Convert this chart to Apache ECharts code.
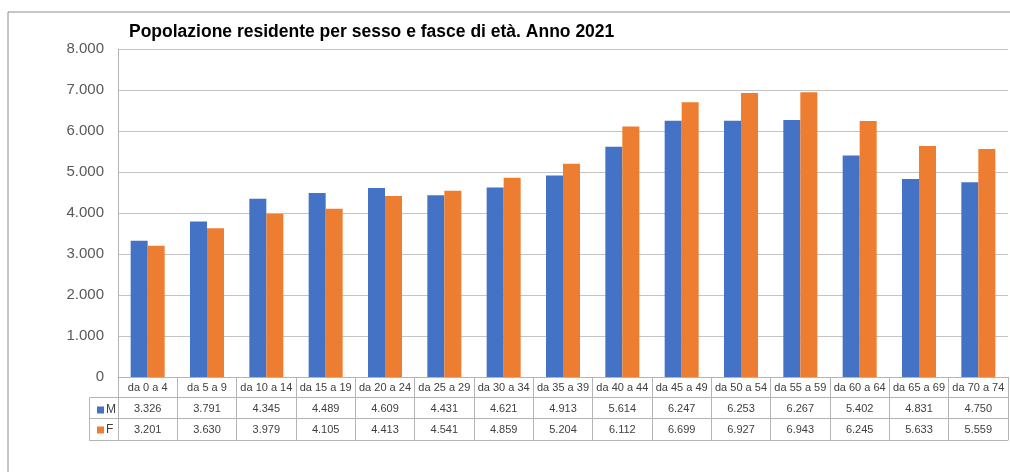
<!DOCTYPE html>
<html>
<head>
<meta charset="utf-8">
<title>Popolazione residente per sesso e fasce di età</title>
<script src="https://cdn.jsdelivr.net/npm/echarts/dist/echarts.min.js"></script>
<style>
  html, body { margin: 0; padding: 0; background: #fff; }
  #chart { width: 1010px; height: 472px; }
</style>
</head>
<body>
<div id="chart"></div>
<script>
// dati: popolazione residente 2021
var categories = ["da 0 a 4", "da 5 a 9", "da 10 a 14", "da 15 a 19", "da 20 a 24", "da 25 a 29", "da 30 a 34",
  "da 35 a 39", "da 40 a 44", "da 45 a 49", "da 50 a 54", "da 55 a 59", "da 60 a 64", "da 65 a 69", "da 70 a 74"];
var maschi = [3326, 3791, 4345, 4489, 4609, 4431, 4621, 4913, 5614, 6247, 6253, 6267, 5402, 4831, 4750];
var femmine = [3201, 3630, 3979, 4105, 4413, 4541, 4859, 5204, 6112, 6699, 6927, 6943, 6245, 5633, 5559];
var yTicks = [0, 1000, 2000, 3000, 4000, 5000, 6000, 7000, 8000];

function fmt(v) {
  return String(v).replace(/\B(?=(\d{3})+(?!\d))/g, ".");
}

var font = "Liberation Sans";
var gridColor = "#c4c4c4";
var tableColor = "#b4b4b4";

var dom = document.getElementById("chart");
var myChart = echarts.init(dom, null, { renderer: "canvas" });

// asse categorie + righe della tabella dati (assi sfalsati)
function tableAxis(offset, labels) {
  return {
    type: "category",
    position: "bottom",
    gridIndex: 0,
    offset: offset,
    data: categories,
    axisLine: { show: true, lineStyle: { color: tableColor, width: 1 } },
    axisTick: { show: false },
    axisLabel: {
      show: !!labels,
      interval: 0,
      margin: 6,
      fontFamily: font,
      fontSize: 11,
      color: "#404040",
      formatter: function (v, i) { return labels ? labels[i] : ""; }
    },
    splitLine: { show: false }
  };
}

let option = {
  animation: false,
  textStyle: { fontFamily: font },
  title: {
    text: "Popolazione residente per sesso e fasce di età. Anno 2021",
    left: 124,
    top: 18,
    textStyle: { fontFamily: font, fontSize: 17.5, fontWeight: "bold", color: "#000" }
  },
  legend: {
    left: 92,
    top: 399,
    orient: "vertical",
    itemWidth: 7,
    itemHeight: 7,
    itemGap: 8,
    icon: "rect",
    textStyle: { fontFamily: font, fontSize: 12, color: "#404040", padding: [0, 0, 0, -3] },
    data: ["M", "F"]
  },
  grid: { left: 118, right: 2, top: 49, bottom: 95 },
  xAxis: [
    {
      type: "category",
      position: "bottom",
      data: categories,
      axisLine: { show: true, lineStyle: { color: tableColor, width: 1 } },
      // i tick fanno da bordi verticali della tabella
      axisTick: { show: true, interval: 0, length: 63, lineStyle: { color: tableColor } },
      axisLabel: { interval: 0, margin: 5, fontFamily: font, fontSize: 11, color: "#404040" },
      splitLine: { show: false }
    },
    tableAxis(20, maschi.map(fmt)),
    tableAxis(41, femmine.map(fmt)),
    tableAxis(63, null)
  ],
  yAxis: {
    type: "value",
    min: yTicks[0],
    max: yTicks[yTicks.length - 1],
    interval: 1000,
    axisLine: { show: true, lineStyle: { color: tableColor } },
    axisTick: { show: false },
    axisLabel: {
      margin: 14,
      fontFamily: font,
      fontSize: 15,
      color: "#595959",
      formatter: function (v) { return fmt(v); }
    },
    splitLine: { show: true, lineStyle: { color: gridColor, width: 1 } }
  },
  series: [
    {
      name: "M",
      type: "bar",
      xAxisIndex: 0,
      data: maschi,
      barWidth: 17,
      barGap: "0%",
      itemStyle: { color: "#4472C4" }
    },
    {
      name: "F",
      type: "bar",
      xAxisIndex: 0,
      data: femmine,
      barWidth: 17,
      barGap: "0%",
      itemStyle: { color: "#ED7D31" }
    }
  ],
  graphic: [
    // cornice del grafico
    {
      type: "rect",
      shape: { x: 8, y: 12, width: 1100, height: 600 },
      style: { fill: null, stroke: "#8c8c8c", lineWidth: 1 },
      silent: true
    },
    // colonna legenda della tabella
    {
      type: "polyline",
      shape: { points: [[118, 397.5], [89.5, 397.5], [89.5, 440.5], [118, 440.5]] },
      style: { fill: null, stroke: tableColor, lineWidth: 1 },
      silent: true
    },
    {
      type: "line",
      shape: { x1: 89.5, y1: 418.5, x2: 118, y2: 418.5 },
      style: { stroke: tableColor, lineWidth: 1 },
      silent: true
    }
  ]
};

if (option && typeof option === "object") {
  myChart.setOption(option, true);
}
</script>
</body>
</html>
